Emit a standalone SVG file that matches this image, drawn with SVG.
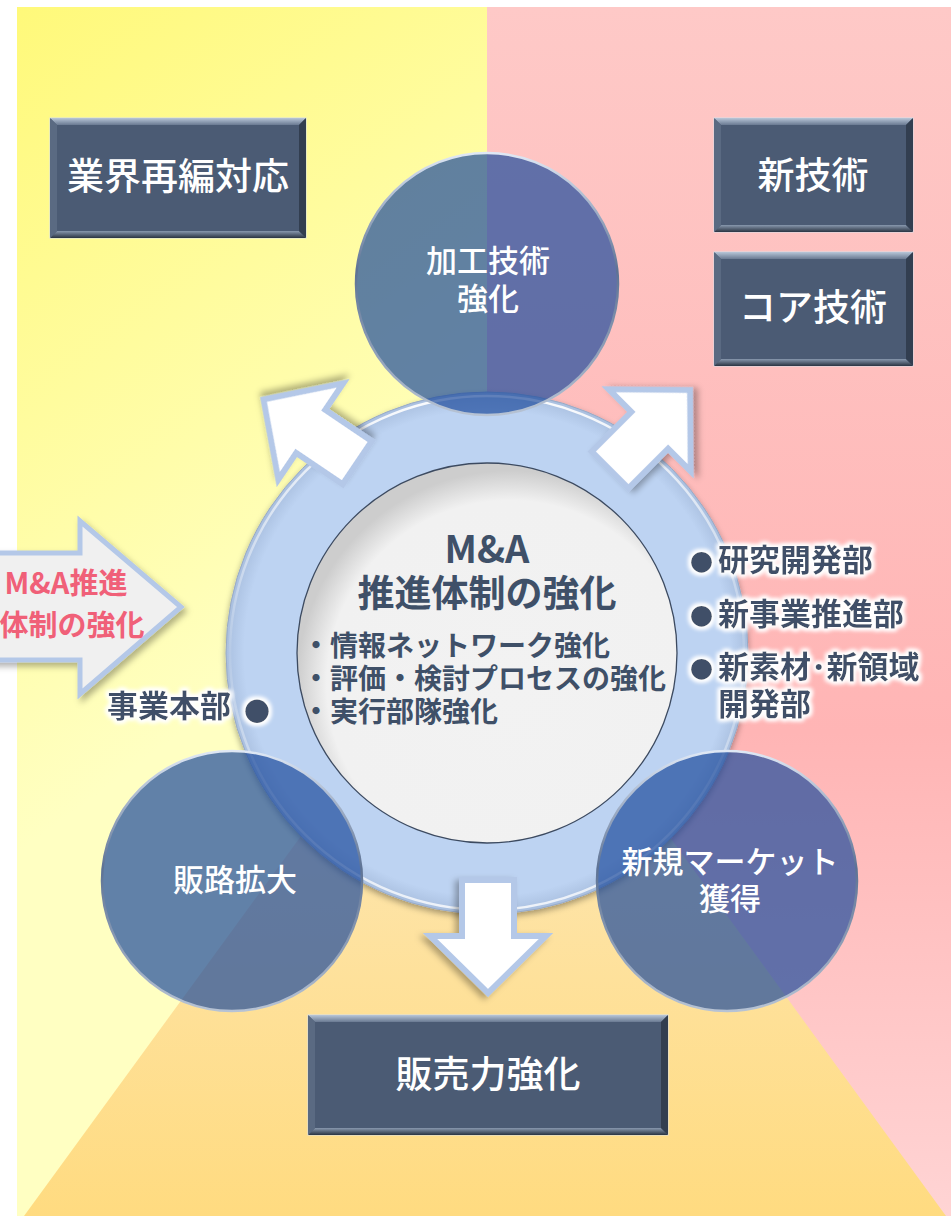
<svg xmlns="http://www.w3.org/2000/svg" width="951" height="1216" viewBox="0 0 951 1216">
<defs>
  <linearGradient id="gY" gradientUnits="userSpaceOnUse" x1="17" y1="7" x2="420" y2="560">
    <stop offset="0" stop-color="#fff97a"/><stop offset="1" stop-color="#ffffc2"/>
  </linearGradient>
  <linearGradient id="gP" x1="0" y1="0" x2="0" y2="1">
    <stop offset="0" stop-color="#fec9c7"/><stop offset="0.6" stop-color="#ffb5b5"/><stop offset="1" stop-color="#ffd4d4"/>
  </linearGradient>
  <linearGradient id="gO" gradientUnits="userSpaceOnUse" x1="0" y1="740" x2="0" y2="1216">
    <stop offset="0" stop-color="#fde7b6"/><stop offset="1" stop-color="#ffdb80"/>
  </linearGradient>
  <linearGradient id="bvT" x1="0" y1="0" x2="0" y2="1">
    <stop offset="0" stop-color="#b8c6d8"/><stop offset="1" stop-color="#6a7a92"/>
  </linearGradient>
  <linearGradient id="bvB" x1="0" y1="0" x2="0" y2="1">
    <stop offset="0" stop-color="#8898ae"/><stop offset="1" stop-color="#2a3442"/>
  </linearGradient>
  <radialGradient id="ringG" cx="0.5" cy="0.5" r="0.5">
    <stop offset="0" stop-color="#bdd3f2"/><stop offset="0.93" stop-color="#bdd3f2"/><stop offset="1" stop-color="#a9bfdf"/>
  </radialGradient>
  <linearGradient id="ringHi" x1="0" y1="0" x2="0" y2="1">
    <stop offset="0" stop-color="#ffffff" stop-opacity="0.95"/><stop offset="0.5" stop-color="#ffffff" stop-opacity="0.1"/><stop offset="1" stop-color="#ffffff" stop-opacity="0.8"/>
  </linearGradient>
  <radialGradient id="innerG" cx="0.56" cy="0.58" r="0.56">
    <stop offset="0" stop-color="#f2f2f2"/><stop offset="0.86" stop-color="#f1f1f1"/><stop offset="1" stop-color="#cdcdcd"/>
  </radialGradient>
  <linearGradient id="rim" x1="0" y1="0" x2="0" y2="1">
    <stop offset="0" stop-color="#dfe8f5"/><stop offset="0.45" stop-color="#5d7294"/><stop offset="1" stop-color="#b7c3d4"/>
  </linearGradient>
  <filter id="sh" x="-20%" y="-20%" width="140%" height="140%">
    <feDropShadow dx="3" dy="4" stdDeviation="3" flood-color="#000" flood-opacity="0.3"/>
  </filter>
  <filter id="shR" x="-10%" y="-10%" width="120%" height="120%">
    <feDropShadow dx="0" dy="3" stdDeviation="3" flood-color="#000" flood-opacity="0.35"/>
  </filter>
  <filter id="glow" x="-10%" y="-40%" width="120%" height="180%">
    <feMorphology in="SourceAlpha" operator="dilate" radius="2" result="d"/>
    <feGaussianBlur in="d" stdDeviation="2" result="b"/>
    <feFlood flood-color="#ffffff"/>
    <feComposite in2="b" operator="in" result="g"/>
    <feMerge><feMergeNode in="g"/><feMergeNode in="g"/><feMergeNode in="SourceGraphic"/></feMerge>
  </filter>
  <polygon id="arw" points="0,0 -57,-58 -57,-26 -113,-26 -113,26 -57,26 -57,58"/>
  <style>
    .jp { font-family: "Noto Sans CJK JP", "Noto Sans", sans-serif; }
    .bx { fill: #4b5b74; stroke: #d6dde8; stroke-width: 1; }
    .bl { fill: #5a6a82; }
    .br { fill: #323e50; }
    .bt { fill: #ffffff; font-size: 37px; font-weight: 500; text-anchor: middle; }
    .nc { fill: #1e4c9d; fill-opacity: 0.7; stroke: url(#rim); stroke-width: 2.5; }
    .nt { fill: #ffffff; font-size: 31px; font-weight: 500; text-anchor: middle; }
    .ct { fill: #3f5068; font-weight: 700; }
    .lbl { fill: #3f5068; font-size: 31px; font-weight: 700; }
    .dot { font-size: 23px; }
    .pk { fill: #f06078; font-size: 29px; font-weight: 700; text-anchor: middle; }
    .wa { fill: #ffffff; stroke: #b4c8e8; stroke-width: 6; stroke-linejoin: miter; }
  </style>
</defs>

<g id="background">
  <rect x="0" y="0" width="951" height="1216" fill="#ffffff"/>
  <rect x="17" y="7" width="470" height="1209" fill="url(#gY)"/>
  <rect x="487" y="7" width="464" height="1209" fill="url(#gP)"/>
  <polygon points="24,1216 946,1216 599,740 371,740" fill="url(#gO)"/>
</g>

<g id="box-gyokai">
  <rect x="50" y="118" width="256" height="120" class="bx"/>
  <polygon points="50,118 306,118 299,125 57,125" fill="url(#bvT)"/>
  <polygon points="50,238 306,238 299,231 57,231" fill="url(#bvB)"/>
  <polygon points="50,118 57,125 57,231 50,238" class="bl"/>
  <polygon points="306,118 299,125 299,231 306,238" class="br"/>
  <text x="178" y="190" class="jp bt">業界再編対応</text>
</g>
<g id="box-shingijutsu">
  <rect x="714" y="118" width="199" height="114" class="bx"/>
  <polygon points="714,118 913,118 906,125 721,125" fill="url(#bvT)"/>
  <polygon points="714,232 913,232 906,225 721,225" fill="url(#bvB)"/>
  <polygon points="714,118 721,125 721,225 714,232" class="bl"/>
  <polygon points="913,118 906,125 906,225 913,232" class="br"/>
  <text x="813" y="189" class="jp bt">新技術</text>
</g>
<g id="box-core">
  <rect x="714" y="252" width="199" height="114" class="bx"/>
  <polygon points="714,252 913,252 906,259 721,259" fill="url(#bvT)"/>
  <polygon points="714,366 913,366 906,359 721,359" fill="url(#bvB)"/>
  <polygon points="714,252 721,259 721,359 714,366" class="bl"/>
  <polygon points="913,252 906,259 906,359 913,366" class="br"/>
  <text x="813" y="321" class="jp bt">コア技術</text>
</g>
<g id="box-hanbai">
  <rect x="308" y="1015" width="360" height="120" class="bx"/>
  <polygon points="308,1015 668,1015 661,1022 315,1022" fill="url(#bvT)"/>
  <polygon points="308,1135 668,1135 661,1128 315,1128" fill="url(#bvB)"/>
  <polygon points="308,1015 315,1022 315,1128 308,1135" class="bl"/>
  <polygon points="668,1015 661,1022 661,1128 668,1135" class="br"/>
  <text x="488" y="1088" class="jp bt">販売力強化</text>
</g>

<g id="node-ma-arrow">
  <polygon points="-10,553 80,553 80,521 181,607 80,694 80,660 -10,660" fill="#f0f0f0" stroke="#b4c8e8" stroke-width="5" filter="url(#sh)"/>
  <text class="jp pk" x="66" y="594">M&amp;A推進</text>
  <text class="jp pk" x="72" y="636">体制の強化</text>
</g>

<g id="node-center">
  <circle cx="487" cy="653" r="261" fill="url(#ringG)" stroke="#98aac6" stroke-width="1" filter="url(#shR)"/>
  <circle cx="487" cy="653" r="257" fill="none" stroke="url(#ringHi)" stroke-width="2.5"/>
  <circle cx="487" cy="653" r="190" fill="url(#innerG)" stroke="#3c4a60" stroke-width="1.3"/>
  <text class="jp ct" x="487" y="563" font-size="38" text-anchor="middle">M&amp;A</text>
  <text class="jp ct" x="487" y="607" font-size="37" text-anchor="middle">推進体制の強化</text>
  <text class="jp ct" x="302" y="656" font-size="28">・情報ネットワーク強化</text>
  <text class="jp ct" x="302" y="689" font-size="28">・評価・検討プロセスの強化</text>
  <text class="jp ct" x="302" y="722" font-size="28">・実行部隊強化</text>
</g>

<g id="connectors">
  <use href="#arw" class="wa" filter="url(#sh)" transform="translate(263.5,399.5) rotate(214)"/>
  <use href="#arw" class="wa" filter="url(#sh)" transform="translate(690,390) rotate(-45)"/>
  <use href="#arw" class="wa" filter="url(#sh)" transform="translate(488,993) rotate(90)"/>
</g>

<g id="node-kako">
  <circle cx="487" cy="284" r="131" class="nc"/>
  <text class="jp nt" x="488" y="272">加工技術</text>
  <text class="jp nt" x="488" y="310">強化</text>
</g>
<g id="node-hanro">
  <circle cx="232" cy="881" r="130" class="nc"/>
  <text class="jp nt" x="235" y="891">販路拡大</text>
</g>
<g id="node-market">
  <circle cx="727" cy="881" r="130" class="nc"/>
  <text class="jp nt" x="730" y="873">新規マーケット</text>
  <text class="jp nt" x="730" y="910">獲得</text>
</g>

<g id="labels" filter="url(#glow)">
  <text class="jp lbl" y="717"><tspan x="107">事業本部</tspan><tspan x="244" y="721" style="font-size:26px">●</tspan></text>
  <text class="jp lbl" y="571"><tspan x="690" class="dot">●</tspan><tspan x="718">研究開発部</tspan></text>
  <text class="jp lbl" y="625"><tspan x="690" class="dot">●</tspan><tspan x="718">新事業推進部</tspan></text>
  <text class="jp lbl" y="678"><tspan x="690" class="dot">●</tspan><tspan x="718">新素材･新領域</tspan></text>
  <text class="jp lbl" x="718" y="715">開発部</text>
</g>
</svg>
